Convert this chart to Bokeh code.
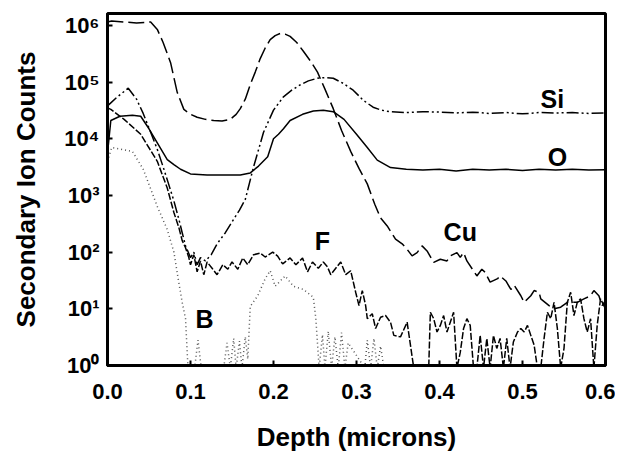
from bokeh.plotting import figure
from bokeh.models import FixedTicker, Range1d, ColumnDataSource
from bokeh.embed import file_html
from bokeh.resources import INLINE
from bokeh.core.properties import value

FONT = "Liberation Sans"

# ---------------- data ----------------
x_ticks = [0.0, 0.1, 0.2, 0.3, 0.4, 0.5, 0.6]
x_tick_labels = ["0.0", "0.1", "0.2", "0.3", "0.4", "0.5", "0.6"]
y_ticks = [1, 10, 100, 1000, 10000, 100000, 1000000]
y_tick_labels = ["10\u2070", "10\u00b9", "10\u00b2", "10\u00b3", "10\u2074", "10\u2075", "10\u2076"]

cu_x = [0.0, 0.005, 0.02, 0.035, 0.052, 0.06, 0.067, 0.076, 0.084, 0.092, 0.1, 0.108,
        0.118, 0.128, 0.138, 0.148, 0.155, 0.16, 0.166, 0.172, 0.178, 0.184, 0.19, 0.196,
        0.202, 0.208, 0.214, 0.22, 0.228, 0.236, 0.245, 0.253, 0.262, 0.272, 0.282, 0.293,
        0.303, 0.313, 0.322, 0.329, 0.337, 0.347, 0.355, 0.361, 0.367, 0.373, 0.379, 0.385,
        0.393, 0.401, 0.409, 0.413, 0.421, 0.425, 0.429, 0.433, 0.445, 0.451, 0.455, 0.461,
        0.47, 0.473, 0.48, 0.486, 0.49, 0.498, 0.502, 0.51, 0.514, 0.52, 0.522, 0.532,
        0.538, 0.546, 0.554, 0.566, 0.574, 0.582, 0.586, 0.592, 0.596, 0.6]
cu_y = [1.15e6, 1.2e6, 1.15e6, 1.1e6, 1.15e6, 8.5e5, 5e5, 2.2e5, 6.6e4, 3.3e4, 2.7e4, 2.4e4,
        2.2e4, 2.1e4, 2.05e4, 2.2e4, 2.7e4, 3.4e4, 5e4, 9e4, 1.5e5, 2.6e5, 4e5, 5.6e5,
        6.6e5, 7.2e5, 7.0e5, 6.4e5, 5e5, 3.5e5, 2.3e5, 1.5e5, 7.5e4, 3.4e4, 1.4e4, 6e3,
        3e3, 1.6e3, 7e2, 4e2, 290, 170, 140, 112, 86, 98, 129, 105,
        66, 75, 70, 86, 98, 81, 98, 70, 38, 50, 44, 29.5,
        34, 38, 31, 22, 26, 17, 13, 17, 21, 19.6, 15, 11.4,
        10, 10.7, 13, 13, 15, 17, 21, 17, 11.4, 14]

si_x = [0.0, 0.004, 0.012, 0.025, 0.035, 0.043, 0.052, 0.06, 0.067, 0.073, 0.08, 0.086,
        0.09, 0.094, 0.1, 0.104, 0.108, 0.112, 0.118, 0.125, 0.132, 0.142, 0.152, 0.159,
        0.166, 0.176, 0.188, 0.2, 0.212, 0.222, 0.232, 0.242, 0.253, 0.262, 0.272, 0.284,
        0.296, 0.308, 0.32, 0.33, 0.34, 0.36, 0.38, 0.4, 0.42, 0.44, 0.46, 0.48, 0.5,
        0.52, 0.54, 0.56, 0.58, 0.6]
si_y = [3.8e4, 4.3e4, 5.5e4, 7.8e4, 5e4, 2.8e4, 1.3e4, 6.5e3, 3.2e3, 1.7e3, 800, 380,
        220, 130, 80, 100, 60, 80, 70, 90, 140, 220, 380, 550,
        850, 3.2e3, 1.3e4, 3.2e4, 5.5e4, 7.2e4, 8.9e4, 1.05e5, 1.17e5, 1.2e5, 1.17e5, 9.5e4,
        7.2e4, 4.8e4, 3.6e4, 3.2e4, 3.0e4, 2.9e4, 3.0e4, 2.95e4, 2.85e4, 2.95e4, 2.8e4, 2.9e4, 2.75e4,
        2.9e4, 2.85e4, 2.9e4, 2.8e4, 2.85e4]

o_x = [0.0, 0.004, 0.015, 0.03, 0.04, 0.05, 0.06, 0.072, 0.08, 0.088, 0.1, 0.12, 0.14,
       0.16, 0.172, 0.182, 0.193, 0.2, 0.206, 0.212, 0.22, 0.235, 0.248, 0.26, 0.272,
       0.285, 0.3, 0.313, 0.325, 0.341, 0.36, 0.38, 0.4, 0.42, 0.44, 0.46, 0.48, 0.5,
       0.52, 0.54, 0.56, 0.58, 0.6]
o_y = [5.5e3, 2.1e4, 2.5e4, 2.6e4, 2.5e4, 1.5e4, 8.5e3, 4.3e3, 3.5e3, 2.9e3, 2.4e3, 2.3e3, 2.3e3,
       2.3e3, 2.5e3, 3.3e3, 4.8e3, 1.0e4, 1.2e4, 1.5e4, 2.1e4, 2.7e4, 3.1e4, 3.2e4, 3.0e4,
       2.2e4, 1.2e4, 7.0e3, 4.2e3, 3.1e3, 2.9e3, 2.8e3, 2.9e3, 2.7e3, 2.9e3, 2.8e3, 2.9e3, 2.75e3,
       2.9e3, 2.8e3, 2.9e3, 2.8e3, 2.85e3]

f_x = [0.0, 0.004, 0.02, 0.04, 0.06, 0.072, 0.08, 0.086, 0.09, 0.094, 0.098, 0.1, 0.104,
       0.108, 0.112, 0.116, 0.12, 0.126, 0.132, 0.139, 0.145, 0.15, 0.157, 0.163, 0.169,
       0.176, 0.184, 0.19, 0.199, 0.205, 0.211, 0.22, 0.227, 0.235, 0.241, 0.247, 0.254,
       0.26, 0.265, 0.269, 0.275, 0.281, 0.287, 0.293, 0.299, 0.303, 0.307, 0.311, 0.313,
       0.319, 0.323, 0.329, 0.335, 0.341, 0.345, 0.353, 0.361, 0.369, 0.387, 0.389, 0.393,
       0.397, 0.401, 0.405, 0.409, 0.413, 0.417, 0.421, 0.425, 0.429, 0.433, 0.437, 0.441,
       0.445, 0.449, 0.453, 0.457, 0.461, 0.465, 0.469, 0.473, 0.477, 0.481, 0.485, 0.489,
       0.494, 0.498, 0.502, 0.506, 0.51, 0.514, 0.518, 0.522, 0.526, 0.53, 0.534, 0.538,
       0.542, 0.546, 0.55, 0.554, 0.558, 0.562, 0.566, 0.57, 0.574, 0.578, 0.582, 0.586,
       0.59, 0.594, 0.6]
f_y = [3.5e4, 3.3e4, 2.2e4, 1.2e4, 4e3, 1.35e3, 500, 270, 160, 120, 80, 60, 90,
       45, 70, 40, 67, 52, 40, 60, 50, 67, 50, 79, 60,
       90, 96, 82, 100, 85, 62, 79, 60, 79, 45, 67, 52,
       67, 55, 40, 52, 67, 40, 47, 19.6, 11.4, 21, 11.4, 6.7,
       8.2, 4.5, 7.1, 7.6, 5.8, 3.4, 3.2, 5.8, 0.9, 0.9, 8.7, 6.7,
       3.9, 5.1, 7.6, 3.9, 5.8, 8.7, 0.9, 1.7, 4.5, 6.7, 5.1, 0.9,
       0.9, 3.4, 0.9, 3.0, 0.9, 3.4, 2.0, 3.0, 0.9, 3.0, 0.9, 2.6,
       3.9, 4.5, 3.9, 5.1, 3.4, 2.3, 0.9, 0.9, 3.0, 8.7, 6.7, 13,
       4.5, 0.9, 2.0, 13, 19.6, 7.6, 13, 15, 6.7, 3.9, 6.7, 0.9,
       5.1, 15, 10]

b_x = [0.0, 0.005, 0.03, 0.043, 0.06, 0.072, 0.08, 0.085, 0.09, 0.094, 0.097, 0.105,
       0.109, 0.113, 0.14, 0.144, 0.148, 0.152, 0.155, 0.159, 0.162, 0.166, 0.169, 0.172,
       0.181, 0.19, 0.196, 0.202, 0.214, 0.224, 0.236, 0.248, 0.251, 0.255, 0.259, 0.262,
       0.266, 0.27, 0.274, 0.278, 0.282, 0.286, 0.29, 0.31, 0.313, 0.317, 0.321, 0.325,
       0.329, 0.333, 0.6]
b_y = [4e3, 7e3, 6e3, 2.9e3, 640, 250, 100, 35, 13, 6.7, 0.9, 0.9,
       2.8, 0.9, 0.9, 2.5, 0.9, 3.0, 0.9, 2.7, 0.9, 3.2, 1.3, 11,
       17, 34, 47, 25, 38, 25, 22, 16, 6.7, 0.9, 3.5, 0.9,
       4.0, 0.9, 3.2, 0.9, 3.8, 0.9, 2.5, 0.9, 2.8, 0.9, 3.0, 0.9,
       2.2, 0.9, 0.9]

label_text = ["Si", "O", "Cu", "F", "B"]
label_x = [0.536, 0.542, 0.425, 0.259, 0.117]
label_y = [5.0e4, 4.8e3, 2.3e2, 1.6e2, 6.6]

# ---------------- figure ----------------
p = figure(width=615, height=454, x_range=Range1d(0, 0.6), y_range=Range1d(1, 10 ** 6.21),
           y_axis_type="log", output_backend="svg", toolbar_location=None,
           min_border_left=107, min_border_right=10, min_border_top=13, min_border_bottom=87)
p.background_fill_color = "white"
p.border_fill_color = "white"
p.grid.visible = False
p.outline_line_color = "black"
p.outline_line_width = 3

p.xaxis.ticker = FixedTicker(ticks=x_ticks)
p.xaxis.major_label_overrides = {float(t): s for t, s in zip(x_ticks, x_tick_labels)}
p.yaxis.ticker = FixedTicker(ticks=y_ticks)
p.yaxis.major_label_overrides = {float(t): s for t, s in zip(y_ticks, y_tick_labels)}

for ax in (p.xaxis[0], p.yaxis[0]):
    ax.axis_line_width = 3
    ax.axis_line_color = "black"
    ax.major_tick_in = 5
    ax.major_tick_out = 0
    ax.major_tick_line_width = 2
    ax.minor_tick_line_color = None
    ax.major_label_text_font = FONT
    ax.major_label_text_font_style = "bold"
    ax.major_label_text_font_size = "22px"
    ax.major_label_text_color = "black"
    ax.axis_label_text_font = FONT
    ax.axis_label_text_font_style = "bold"
    ax.axis_label_text_font_size = "26px"
    ax.axis_label_text_color = "black"

p.xaxis.axis_label = "Depth (microns)"
p.yaxis.axis_label = "Secondary Ion Counts"
p.xaxis.major_label_standoff = 18
p.xaxis.axis_label_standoff = 20
p.yaxis.major_label_standoff = 8
p.yaxis.axis_label_standoff = 20

p.line(cu_x, cu_y, line_color="black", line_width=1.5, line_dash="16 5")
p.line(si_x, si_y, line_color="black", line_width=1.5, line_dash="12 3 2 3 2 3")
p.line(o_x, o_y, line_color="black", line_width=1.5)
p.line(f_x, f_y, line_color="black", line_width=1.5, line_dash="7 2")
p.line(b_x, b_y, line_color="#555555", line_width=1.5, line_dash="1 3")

src = ColumnDataSource(dict(x=label_x, y=label_y, t=label_text))
p.text(x="x", y="y", text="t", source=src, text_font=value(FONT), text_font_style="bold",
       text_font_size="25px", text_align="center", text_baseline="middle", text_color="black")

open("out.html", "w").write(file_html(p, INLINE))
